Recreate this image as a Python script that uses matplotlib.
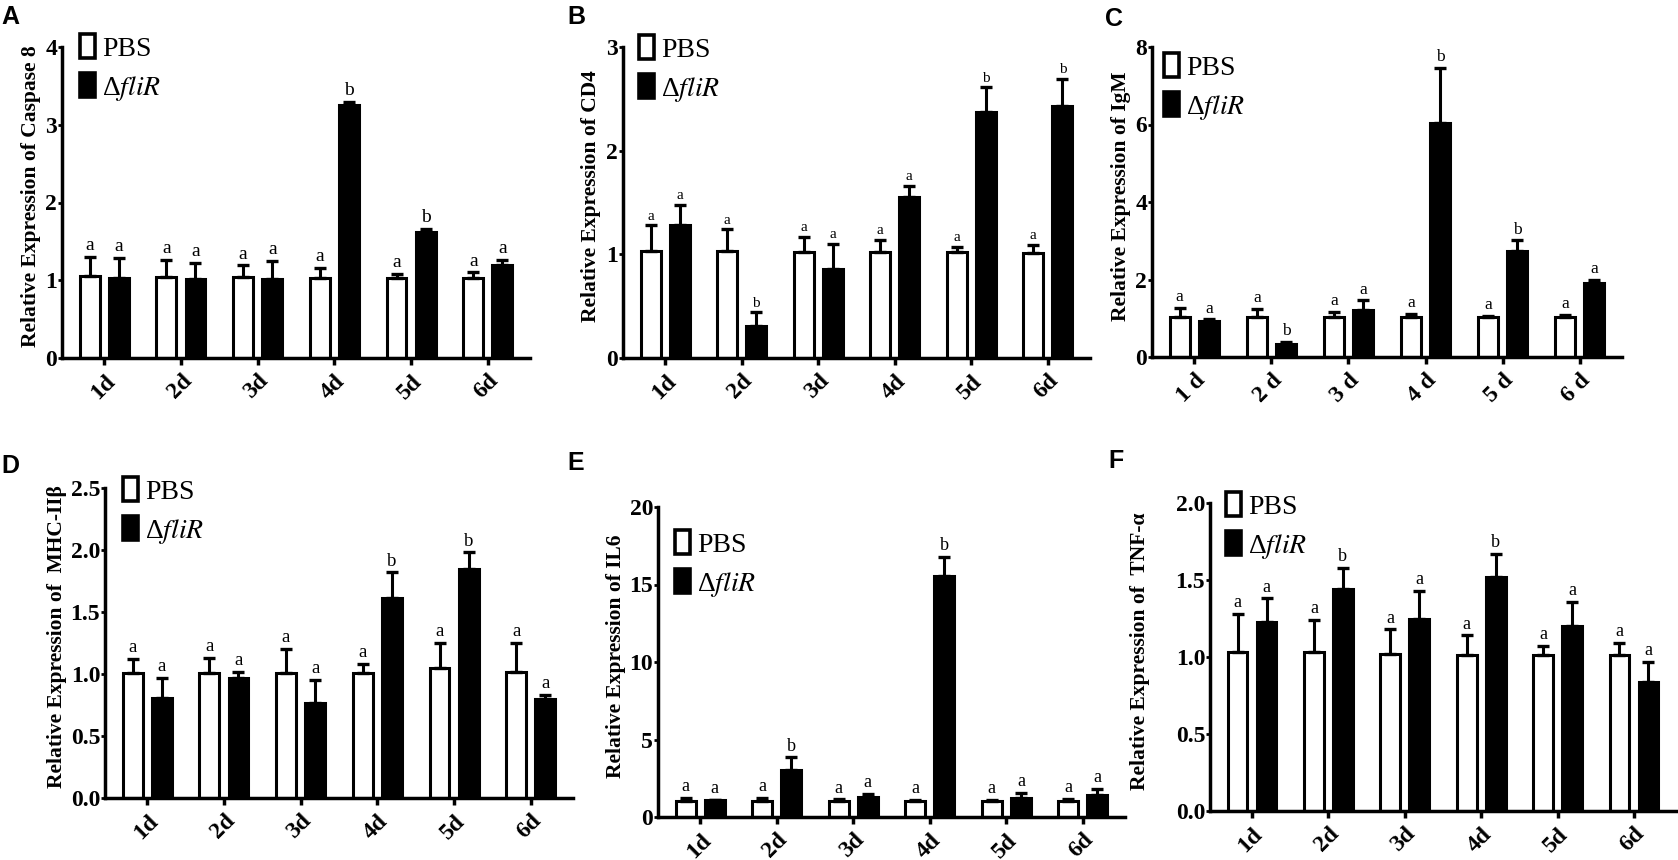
import matplotlib

matplotlib.use("Agg")
import matplotlib.pyplot as plt
import numpy as np
from matplotlib.patches import Patch

plt.rcParams["font.family"] = "Liberation Serif"
plt.rcParams["mathtext.fontset"] = "stix"
plt.rcParams["axes.linewidth"] = 2.5

days = ["1d", "2d", "3d", "4d", "5d", "6d"]
days_spaced = ["1 d", "2 d", "3 d", "4 d", "5 d", "6 d"]

# mean and SEM, PBS control vs. fliR deletion mutant
casp8_pbs = [1.05, 1.04, 1.04, 1.03, 1.03, 1.03]
casp8_pbs_sem = [0.25, 0.22, 0.15, 0.13, 0.05, 0.07]
casp8_flir = [1.03, 1.02, 1.01, 3.26, 1.62, 1.19]
casp8_flir_sem = [0.26, 0.20, 0.24, 0.03, 0.04, 0.07]
casp8_sig = ["a", "a", "a", "b", "b", "a"]

cd4_pbs = [1.03, 1.03, 1.02, 1.02, 1.02, 1.01]
cd4_pbs_sem = [0.25, 0.21, 0.15, 0.12, 0.05, 0.08]
cd4_flir = [1.28, 0.31, 0.86, 1.55, 2.37, 2.43]
cd4_flir_sem = [0.20, 0.13, 0.24, 0.11, 0.24, 0.26]
cd4_sig = ["a", "b", "a", "a", "b", "b"]

igm_pbs = [1.03, 1.03, 1.03, 1.02, 1.02, 1.02]
igm_pbs_sem = [0.24, 0.21, 0.13, 0.10, 0.05, 0.07]
igm_flir = [0.93, 0.33, 1.22, 6.04, 2.74, 1.91]
igm_flir_sem = [0.04, 0.07, 0.24, 1.42, 0.27, 0.09]
igm_sig = ["a", "b", "a", "b", "b", "a"]

mhc_pbs = [1.01, 1.01, 1.01, 1.01, 1.05, 1.02]
mhc_pbs_sem = [0.11, 0.12, 0.19, 0.07, 0.20, 0.23]
mhc_flir = [0.81, 0.97, 0.77, 1.61, 1.85, 0.80]
mhc_flir_sem = [0.16, 0.05, 0.18, 0.21, 0.13, 0.03]
mhc_sig = ["a", "a", "a", "b", "b", "a"]

il6_pbs = [1.03, 1.03, 1.03, 1.03, 1.03, 1.01]
il6_pbs_sem = [0.22, 0.20, 0.11, 0.09, 0.05, 0.17]
il6_flir = [1.08, 3.02, 1.29, 15.58, 1.23, 1.45]
il6_flir_sem = [0.04, 0.82, 0.18, 1.19, 0.32, 0.35]
il6_sig = ["a", "b", "a", "b", "a", "a"]

tnf_pbs = [1.03, 1.03, 1.02, 1.01, 1.01, 1.01]
tnf_pbs_sem = [0.25, 0.21, 0.16, 0.13, 0.06, 0.08]
tnf_flir = [1.23, 1.44, 1.25, 1.52, 1.20, 0.84]
tnf_flir_sem = [0.15, 0.14, 0.18, 0.15, 0.16, 0.13]
tnf_sig = ["a", "b", "a", "b", "a", "a"]

W, H = 1678, 860

# letter, ylabel, x labels, y ticks, data, axes box (px), legend corner (px), ylabel offset (px), sig size
panels = [
    ("A", "Relative Expression of Caspase 8", days, [0, 1, 2, 3, 4], "{:.0f}",
     casp8_pbs, casp8_pbs_sem, casp8_flir, casp8_flir_sem, casp8_sig,
     (62, 47, 530, 358), (80, 34), 31, (1, 5), 14),
    ("B", "Relative Expression of CD4", days, [0, 1, 2, 3], "{:.0f}",
     cd4_pbs, cd4_pbs_sem, cd4_flir, cd4_flir_sem, cd4_sig,
     (623, 47, 1090, 358), (639, 35), 32, (567, 5), 11),
    ("C", "Relative Expression of IgM", days_spaced, [0, 2, 4, 6, 8], "{:.0f}",
     igm_pbs, igm_pbs_sem, igm_flir, igm_flir_sem, igm_sig,
     (1152, 47, 1622, 357), (1164, 53), 31, (1105, 7), 12.5),
    ("D", "Relative Expression of  MHC-II\u03b2", days, [0, 0.5, 1.0, 1.5, 2.0, 2.5], "{:.1f}",
     mhc_pbs, mhc_pbs_sem, mhc_flir, mhc_flir_sem, mhc_sig,
     (105, 488, 573, 798), (123, 477), 48, (1, 454), 13.5),
    ("E", "Relative Expression of IL6", days, [0, 5, 10, 15, 20], "{:.0f}",
     il6_pbs, il6_pbs_sem, il6_flir, il6_flir_sem, il6_sig,
     (658, 507, 1125, 817), (675, 530), 42, (567, 451), 13),
    ("F", "Relative Expression of  TNF-\u03b1", days, [0, 0.5, 1.0, 1.5, 2.0], "{:.1f}",
     tnf_pbs, tnf_pbs_sem, tnf_flir, tnf_flir_sem, tnf_sig,
     (1210, 503, 1676, 811), (1226, 492), 70, (1108, 449), 13),
]

fig = plt.figure(figsize=(W / 100, H / 100), dpi=100)

x = np.arange(len(days))
offset = 0.19
width = 0.26

for (letter, ylabel, xlabels, yticks, yfmt, pbs, pbs_sem, flir, flir_sem, sig,
     box, legend_xy, label_off, letter_xy, sig_size) in panels:
    x0, y0, x1, y1 = box
    ax = fig.add_axes([x0 / W, 1 - y1 / H, (x1 - x0) / W, (y1 - y0) / H])

    ax.bar(x - offset, pbs, width, color="white", edgecolor="black", linewidth=2.2, zorder=2)
    ax.bar(x + offset, flir, width, color="black", edgecolor="black", linewidth=2.2, zorder=2)
    for xs, means, sems in [(x - offset, pbs, pbs_sem), (x + offset, flir, flir_sem)]:
        ax.errorbar(xs, means, yerr=[np.zeros(len(sems)), sems], fmt="none", ecolor="black",
                    elinewidth=2.2, capsize=4.6, capthick=2.4, zorder=3)

    for i in range(len(days)):
        ax.annotate("a", (x[i] - offset, pbs[i] + pbs_sem[i]), xytext=(0, 2),
                    textcoords="offset points", ha="center", va="bottom", fontsize=sig_size)
        ax.annotate(sig[i], (x[i] + offset, flir[i] + flir_sem[i]), xytext=(0, 2),
                    textcoords="offset points", ha="center", va="bottom", fontsize=sig_size)

    ax.set_xlim(-0.55, 5.55)
    ax.set_ylim(yticks[0], yticks[-1])
    ax.set_xticks(x)
    ax.set_xticklabels(xlabels, rotation=45, ha="right", rotation_mode="anchor",
                       fontsize=17, fontweight="bold")
    ax.set_yticks(yticks)
    ax.set_yticklabels([yfmt.format(t) for t in yticks], fontsize=17, fontweight="bold")
    ax.tick_params(axis="x", direction="out", length=5, width=2.5, pad=4)
    ax.tick_params(axis="y", direction="out", length=3, width=2, pad=0.5)
    for side in ["top", "right"]:
        ax.spines[side].set_visible(False)

    ax.set_ylabel(ylabel, fontsize=15.5, fontweight="bold", va="center")
    ax.yaxis.set_label_coords(-label_off / (x1 - x0), 0.52)

    handles = [
        Patch(facecolor="white", edgecolor="black", linewidth=2.6),
        Patch(facecolor="black", edgecolor="black", linewidth=2.6),
    ]
    lx, ly = legend_xy
    ax.legend(handles, ["PBS", "\u0394$\\mathit{fliR}$"], loc="upper left",
              bbox_to_anchor=(lx / W, 1 - ly / H), bbox_transform=fig.transFigure,
              frameon=False, prop={"family": "Liberation Serif", "size": 20},
              handlelength=0.55, handleheight=0.95,
              handletextpad=0.25, labelspacing=0.42, borderpad=0, borderaxespad=0)

    fig.text(letter_xy[0] / W, 1 - letter_xy[1] / H, letter, ha="left", va="top",
             fontsize=18, fontweight="bold", family="Liberation Sans")

fig.savefig("out.png", dpi=100)
